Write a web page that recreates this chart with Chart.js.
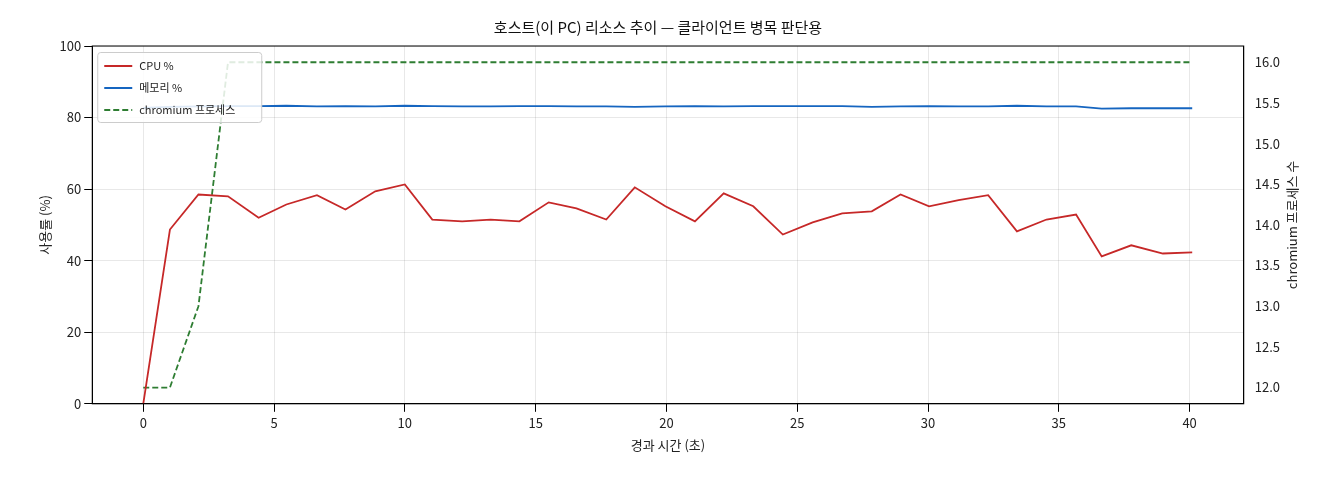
<!DOCTYPE html>
<html><head><meta charset="utf-8">
<script src="https://cdn.jsdelivr.net/npm/chart.js@4.4.1/dist/chart.umd.min.js"></script>
<style>html,body{margin:0;padding:0;background:#fff}#w{width:1320px;height:480px}</style>
</head><body><div id="w"><canvas id="c"></canvas></div>
<script>
const timeSec=[0,1.02,2.11,3.24,4.41,5.47,6.64,7.73,8.87,10.0,11.05,12.19,13.28,14.38,15.5,16.56,17.7,18.79,19.96,21.09,22.19,23.32,24.45,25.59,26.72,27.85,28.95,30.04,31.17,32.3,33.4,34.53,35.66,36.64,37.77,38.98,40.1];
const cpu=[0,48.7,58.5,58,52,55.7,58.3,54.3,59.4,61.3,51.5,51,51.5,51,56.3,54.6,51.5,60.5,55.2,51,58.8,55.2,47.3,50.7,53.2,53.8,58.5,55.2,56.9,58.3,48.2,51.5,52.9,41.2,44.3,42,42.3];
const mem=[82.7,83.0,83.1,83.2,83.2,83.3,83.1,83.2,83.1,83.3,83.2,83.1,83.1,83.2,83.2,83.1,83.1,83.0,83.1,83.2,83.1,83.2,83.2,83.2,83.2,83.0,83.1,83.2,83.1,83.1,83.3,83.1,83.1,82.5,82.6,82.6,82.6];
const procs=[12,12,13,16,16,16,16,16,16,16,16,16,16,16,16,16,16,16,16,16,16,16,16,16,16,16,16,16,16,16,16,16,16,16,16,16,16];
const labels=['CPU %','메모리 %','chromium 프로세스'];
const F='"Noto Sans CJK KR","DejaVu Sans",sans-serif';
const pts=a=>a.map((v,i)=>({x:timeSec[i],y:v}));
const legendIn={id:'legendIn',afterDraw(ch){const a=ch.chartArea,c=ch.ctx;const x=a.left+5,y=a.top+6;
 c.save();c.fillStyle='rgba(255,255,255,0.85)';c.strokeStyle='#ccc';c.lineWidth=1;
 c.beginPath();c.roundRect(x+.5,y+.5,164,70,3);c.fill();c.stroke();
 c.font='11px '+F;c.textBaseline='middle';
 ch.data.datasets.forEach((d,i)=>{const yy=y+14+i*22;c.strokeStyle=d.borderColor;c.lineWidth=2;c.setLineDash(d.borderDash||[]);
 c.beginPath();c.moveTo(x+7,yy);c.lineTo(x+35,yy);c.stroke();c.setLineDash([]);c.fillStyle='#222';c.fillText(d.label,x+42,yy);});
 c.restore();}};
const rightTitle={id:'rightTitle',afterDraw(ch){const a=ch.chartArea,c=ch.ctx;c.save();c.font='13px '+F;c.fillStyle='#222';
 c.textAlign='center';c.textBaseline='middle';c.translate(1292,(a.top+a.bottom)/2);c.rotate(-Math.PI/2);c.fillText('chromium 프로세스 수',0,0);c.restore();}};
new Chart(document.getElementById('c'),{type:'line',
data:{datasets:[
{label:labels[0],data:pts(cpu),borderColor:'#c62828',borderWidth:1.8,pointRadius:0,tension:0,yAxisID:'y'},
{label:labels[1],data:pts(mem),borderColor:'#1565c0',borderWidth:1.8,pointRadius:0,tension:0,yAxisID:'y'},
{label:labels[2],data:pts(procs),borderColor:'#2e7d32',borderWidth:1.8,borderDash:[6,3],pointRadius:0,tension:0,yAxisID:'y1'}]},
options:{responsive:true,maintainAspectRatio:false,animation:false,
layout:{padding:{left:33,right:37,top:10,bottom:23}},
plugins:{legend:{display:false},tooltip:{enabled:false},
title:{display:true,text:'호스트(이 PC) 리소스 추이 — 클라이언트 병목 판단용',color:'#111',font:{family:F,size:15,weight:'normal'},padding:{top:8,bottom:10}}},
scales:{
x:{type:'linear',min:-1.95,max:42.07,ticks:{stepSize:5,color:'#222',font:{family:F,size:13},callback:v=>Number.isInteger(v)?v:''},
 afterBuildTicks:s=>{s.ticks=[0,5,10,15,20,25,30,35,40].map(v=>({value:v}));},
 grid:{color:'rgba(0,0,0,0.09)',tickColor:'#000'},border:{color:'#000'},
 title:{display:true,text:'경과 시간 (초)',color:'#222',font:{family:F,size:13}}},
y:{min:0,max:100,ticks:{stepSize:20,color:'#222',font:{family:F,size:13}},grid:{color:'rgba(0,0,0,0.09)',tickColor:'#000'},border:{color:'#000'},
 title:{display:true,text:'사용률 (%)',color:'#222',font:{family:F,size:13}}},
y1:{position:'right',min:11.8,max:16.2,afterBuildTicks:s=>{s.ticks=[12,12.5,13,13.5,14,14.5,15,15.5,16].map(v=>({value:v}));},
 ticks:{color:'#222',font:{family:F,size:13},callback:v=>v.toFixed(1)},grid:{display:false,tickColor:'#000'},border:{color:'#000'},
 title:{display:false}}}},
plugins:[legendIn,rightTitle,{id:'frame',afterDraw(ch){const a=ch.chartArea,c=ch.ctx;c.save();c.strokeStyle='#000';c.lineWidth=1;c.strokeRect(a.left,a.top,a.right-a.left,a.bottom-a.top);c.restore();}}]});
</script></body></html>
